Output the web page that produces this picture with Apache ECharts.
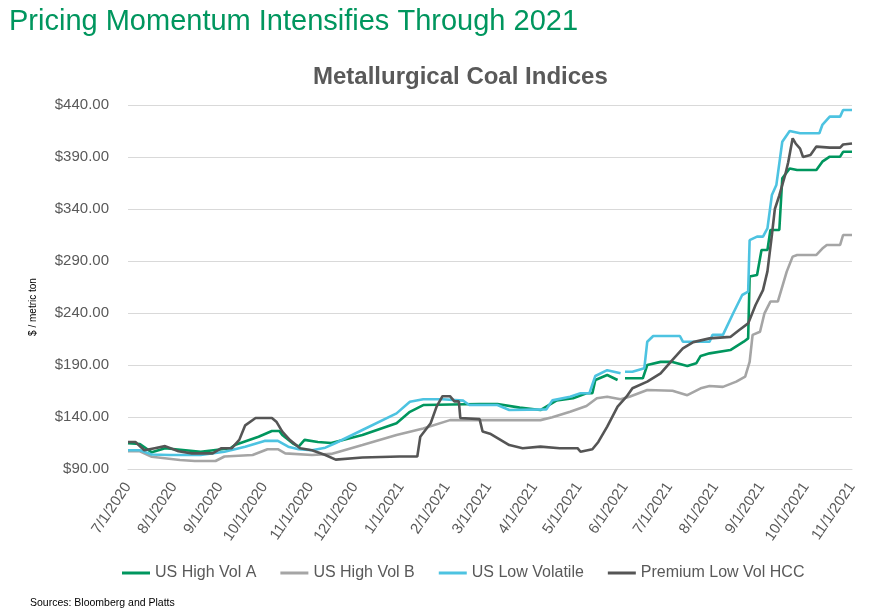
<!DOCTYPE html>
<html>
<head>
<meta charset="utf-8">
<script src="https://cdn.jsdelivr.net/npm/echarts@6/dist/echarts.min.js"></script>
<style>
html,body{margin:0;padding:0;background:#fff;}
#chart{width:883px;height:615px;}
</style>
</head>
<body>
<div id="chart"></div>
<script>
// ---------- DATA ----------
var seriesNames = ['US High Vol A', 'US High Vol B', 'US Low Volatile', 'Premium Low Vol HCC'];
var xTickLabels = ['7/1/2020','8/1/2020','9/1/2020','10/1/2020','11/1/2020','12/1/2020','1/1/2021','2/1/2021','3/1/2021','4/1/2021','5/1/2021','6/1/2021','7/1/2021','8/1/2021','9/1/2021','10/1/2021','11/1/2021'];
var yTicks = [90, 140, 190, 240, 290, 340, 390, 440];

var hvaDates = ['2020-07-01','2020-07-09','2020-07-17','2020-07-26','2020-08-19','2020-09-08','2020-09-11','2020-09-27','2020-10-06','2020-10-11','2020-10-13','2020-10-20','2020-10-24','2020-10-28','2020-11-06','2020-11-15','2020-12-06','2020-12-29','2021-01-07','2021-01-16','2021-02-23','2021-03-07','2021-03-22','2021-04-05','2021-04-16','2021-04-27','2021-05-06','2021-05-10','2021-05-12','2021-05-20','2021-05-27','2021-05-30','2021-06-01','2021-06-13','2021-06-16','2021-06-25','2021-07-03','2021-07-13','2021-07-19','2021-07-22','2021-07-28','2021-08-11','2021-08-20','2021-08-23','2021-08-24','2021-08-29','2021-09-01','2021-09-05','2021-09-07','2021-09-13','2021-09-15','2021-09-20','2021-09-25','2021-10-08','2021-10-12','2021-10-17','2021-10-24','2021-10-26','2021-11-01'];
var hvaValues = [114.7,114,106,110,106.6,110,113,121,126.5,126.5,122.7,114.7,111.5,118,116,115,122.7,134,145,151.5,152.5,152.5,149,146.7,156,158,162.8,162.8,175.6,180.4,175.6,null,177.2,177.2,190,193,193,189,191.6,198.7,201.2,204.4,212.4,215.6,275,276.5,300.6,300.6,319.8,319.8,369.5,379,377.5,377.5,385.5,390.3,390.3,395,395];

var hvbDates = ['2020-07-01','2020-07-09','2020-07-17','2020-08-05','2020-08-15','2020-08-29','2020-09-04','2020-09-23','2020-10-03','2020-10-10','2020-10-15','2020-11-02','2020-11-15','2020-12-06','2020-12-29','2021-01-16','2021-02-03','2021-03-30','2021-04-05','2021-04-13','2021-04-25','2021-05-06','2021-05-13','2021-05-20','2021-05-29','2021-06-04','2021-06-16','2021-07-03','2021-07-13','2021-07-22','2021-07-28','2021-08-06','2021-08-15','2021-08-21','2021-08-24','2021-08-26','2021-08-31','2021-09-03','2021-09-07','2021-09-12','2021-09-18','2021-09-22','2021-09-25','2021-10-08','2021-10-12','2021-10-15','2021-10-24','2021-10-26','2021-11-01'];
var hvbValues = [107,107,101.8,98.6,97.7,97.7,102,103.5,109,109,105,103.5,104.5,113,122.7,129,137,137,137,139.7,145,150.6,158,159.5,157,159.5,166,165.3,161,167.6,169.8,169,174,178.8,193,219,222,239.7,251,251,279.8,294.2,295.8,295.8,302,305.4,305.4,315,315];

var lvDates = ['2020-07-01','2020-07-09','2020-07-17','2020-07-29','2020-08-19','2020-09-04','2020-09-18','2020-10-01','2020-10-10','2020-10-17','2020-10-24','2020-11-02','2020-11-11','2020-11-18','2020-12-06','2020-12-29','2021-01-07','2021-01-16','2021-01-29','2021-02-12','2021-02-16','2021-03-07','2021-03-15','2021-04-09','2021-04-13','2021-04-25','2021-05-02','2021-05-08','2021-05-12','2021-05-20','2021-05-29','2021-05-31','2021-06-01','2021-06-06','2021-06-14','2021-06-16','2021-06-20','2021-07-08','2021-07-10','2021-07-28','2021-07-30','2021-08-06','2021-08-13','2021-08-19','2021-08-23','2021-08-24','2021-08-29','2021-09-02','2021-09-05','2021-09-08','2021-09-11','2021-09-15','2021-09-20','2021-09-27','2021-10-10','2021-10-12','2021-10-17','2021-10-24','2021-10-26','2021-11-01'];
var lvValues = [108,108,104,103.5,103.5,106.6,111.5,117,117,111.5,109,108,110.5,115,127.5,143.5,154.7,157,157,155.7,151.5,151.5,146.7,147.3,156,159.5,162.8,162.8,179.4,185,182,null,183.5,183.5,186.8,212.4,217.9,217.9,212.4,212.4,219,219,240,257.3,260.5,310,313.4,313.4,321.4,353.5,363,404.7,415,412.8,412.8,420.8,428.8,428.8,435.2,435.2];

var hccDates = ['2020-07-01','2020-07-06','2020-07-12','2020-07-19','2020-07-26','2020-08-04','2020-08-13','2020-08-27','2020-09-02','2020-09-09','2020-09-14','2020-09-18','2020-09-25','2020-10-06','2020-10-09','2020-10-13','2020-10-18','2020-10-25','2020-11-02','2020-11-11','2020-11-18','2020-12-06','2020-12-31','2021-01-12','2021-01-14','2021-01-21','2021-01-25','2021-01-29','2021-02-03','2021-02-06','2021-02-09','2021-02-10','2021-02-23','2021-02-25','2021-03-02','2021-03-15','2021-03-24','2021-04-05','2021-04-18','2021-04-30','2021-05-02','2021-05-10','2021-05-14','2021-05-20','2021-05-27','2021-06-02','2021-06-06','2021-06-16','2021-06-25','2021-07-03','2021-07-10','2021-07-17','2021-07-28','2021-08-11','2021-08-17','2021-08-23','2021-08-28','2021-09-02','2021-09-05','2021-09-08','2021-09-10','2021-09-13','2021-09-17','2021-09-19','2021-09-22','2021-09-24','2021-09-27','2021-09-29','2021-10-04','2021-10-08','2021-10-17','2021-10-24','2021-10-26','2021-11-01'];
var hccValues = [116,116,108,110,112,107,105,105,110,110,118,132,139,139,135.5,126,118,110,108,103.5,99,101,102,102,121,134,150,160,160,155,155,139,138,126,124,113,110,111.5,110,110,106.6,109,116,130.7,150,159.5,167.6,174,182,195,206,212,215.6,217,223.7,230,247.7,262,280,315,340,353,373,385,408,403,398,390,392,400,399,399,402,403];

// ---------- BUILD ----------
function parseIso(s) { var p = s.split('-'); return Date.UTC(+p[0], +p[1] - 1, +p[2]); }
function parseLabel(s) { var p = s.split('/'); return Date.UTC(+p[2], +p[0] - 1, +p[1]); }
function zip(d, v) { return d.map(function (x, i) { return [parseIso(x), v[i]]; }); }
var tickValues = xTickLabels.map(parseLabel);
var colors = ['#00965E', '#A5A5A5', '#4DC3E1', '#555555'];
var seriesData = [zip(hvaDates, hvaValues), zip(hvbDates, hvbValues), zip(lvDates, lvValues), zip(hccDates, hccValues)];
var FONT = 'Liberation Sans, Arial, sans-serif';

var chart = echarts.init(document.getElementById('chart'), null, {renderer: 'canvas'});
chart.setOption({
  animation: false,
  backgroundColor: '#ffffff',
  color: colors,
  textStyle: {fontFamily: FONT},
  title: [
    {text: 'Pricing Momentum Intensifies Through 2021', left: 4, top: 2,
     textStyle: {color: '#00965E', fontSize: 29, fontWeight: 'normal', fontFamily: FONT}},
    {text: 'Metallurgical Coal Indices', left: 308, top: 60,
     textStyle: {color: '#595959', fontSize: 24, fontWeight: 'bold', fontFamily: FONT}}
  ],
  legend: {
    data: seriesNames,
    left: 122, top: 565, padding: 0,
    icon: 'rect', itemWidth: 28, itemHeight: 3, itemGap: 24,
    textStyle: {color: '#595959', fontSize: 16, fontFamily: FONT}
  },
  graphic: [
    {type: 'text', left: 30, top: 598, style: {text: 'Sources: Bloomberg and Platts', fill: '#000', font: '10.5px ' + FONT}},
    {type: 'text', x: 33, y: 307, rotation: Math.PI / 2,
     style: {text: '$ / metric ton', fill: '#000', font: '10px ' + FONT, textAlign: 'center', textVerticalAlign: 'middle'}}
  ],
  grid: {left: 128, right: 31, top: 105, bottom: 146, containLabel: false},
  xAxis: {
    type: 'value',
    min: tickValues[0], max: tickValues[tickValues.length - 1],
    axisLine: {show: true, lineStyle: {color: '#D9D9D9'}},
    axisTick: {show: false},
    splitLine: {show: false},
    axisLabel: {
      customValues: tickValues,
      rotate: 56, color: '#595959', fontSize: 15, fontFamily: FONT, margin: 15,
      hideOverlap: false, showMinLabel: true, showMaxLabel: true,
      formatter: function (v) { var i = tickValues.indexOf(v); return i >= 0 ? xTickLabels[i] : ''; }
    }
  },
  yAxis: {
    type: 'value', min: yTicks[0], max: yTicks[yTicks.length - 1], interval: 50,
    axisLine: {show: false}, axisTick: {show: false},
    splitLine: {lineStyle: {color: '#D9D9D9', width: 1}},
    axisLabel: {color: '#595959', fontSize: 15, fontFamily: FONT, margin: 19,
      formatter: function (v) { return '$' + v.toFixed(2); }}
  },
  series: seriesNames.map(function (n, i) {
    return {name: n, type: 'line', data: seriesData[i], showSymbol: false, symbol: 'none',
      connectNulls: false, lineStyle: {width: 2.6, color: colors[i]}, itemStyle: {color: colors[i]},
      z: i === 3 ? 5 : 2 + i};
  })
});
</script>
</body>
</html>
